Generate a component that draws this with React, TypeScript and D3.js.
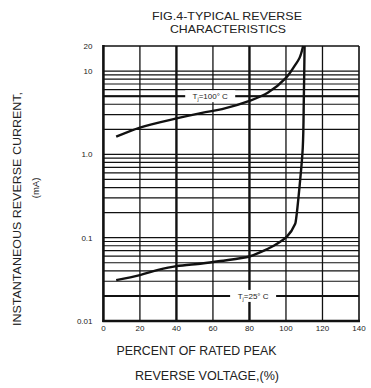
import React from "react";
import * as d3 from "d3";

const xTicks = [0, 20, 40, 60, 80, 100, 120, 140];
const xGrid = [20, 40, 60, 80, 100, 120];
const xGridThick = [40, 80];
const yTickValues = [0.01, 0.1, 1, 10, 20];
const yTickLabels = ["0.01", "0.1", "1.0", "10", "20"];
const decades = [0.01, 0.1, 1];

const pct100 = [7, 20, 40, 54, 65, 80, 90, 100, 105, 107.5, 109.4];
const cur100 = [1.63, 2.1, 2.7, 3.15, 3.5, 4.4, 5.5, 8.3, 11.8, 14.5, 20];

const pct25 = [7, 20, 30, 40, 54, 64, 80, 86, 93, 100.5, 105, 105.4, 107.6, 109.2, 109.8, 110.2];
const cur25 = [0.031, 0.0356, 0.041, 0.0455, 0.049, 0.0525, 0.0595, 0.067, 0.0795, 0.103, 0.146, 0.16, 0.45, 1.2, 5, 20];

const W = 371;
const H = 388;
const L = 103.4, R = 359, T = 46, B = 321;

export default function App() {
  const x = d3.scaleLinear().domain([0, 140]).range([L, R]);
  const y = d3.scaleLog().domain([0.01, 20]).range([B, T]);

  const hLines: number[] = [];
  decades.forEach((d) => {
    for (let k = 1; k <= 9; k++) {
      const v = d * k;
      if (v > 0.01 + 1e-9) hLines.push(v);
    }
  });
  hLines.push(10);

  const line = d3
    .line<[number, number]>()
    .x((d) => x(d[0]))
    .y((d) => y(d[1]))
    .curve(d3.curveCatmullRom.alpha(0.5));

  const d100 = line(pct100.map((p, i) => [p, cur100[i]] as [number, number])) || "";
  const d25 = line(pct25.map((p, i) => [p, cur25[i]] as [number, number])) || "";

  const font = "'Liberation Sans', Arial, Helvetica, sans-serif";
  const ink = "#111";
  const txt = "#222";

  const label = (cx: number, v: number, temp: string, bw: number) => {
    const cy = y(v);
    return (
      <g>
        <line x1={L} x2={R} y1={cy} y2={cy} stroke={ink} strokeWidth={2} />
        <rect x={cx - bw / 2} y={cy - 6} width={bw} height={12} fill="#fff" />
        <text x={cx} y={cy + 3} textAnchor="middle" fontFamily={font} fontSize={8} fill={txt}>
          T<tspan dy={2} fontSize={5.5}>j</tspan>
          <tspan dy={-2}>{"=" + temp + "° C"}</tspan>
        </text>
      </g>
    );
  };

  return (
    <svg width={W} height={H} style={{ position: "absolute", left: 0, top: 0, background: "#fff" }}>
      <rect x={0} y={0} width={W} height={H} fill="#fff" />
      {/* title */}
      <text x={227} y={20} textAnchor="middle" fontFamily={font} fontSize={11.5} fill={txt} textLength={150} lengthAdjust="spacingAndGlyphs">
        FIG.4-TYPICAL REVERSE
      </text>
      <text x={228} y={33} textAnchor="middle" fontFamily={font} fontSize={11.5} fill={txt} textLength={116} lengthAdjust="spacingAndGlyphs">
        CHARACTERISTICS
      </text>

      {/* horizontal grid */}
      {hLines.map((v, i) => (
        <line key={"h" + i} x1={L} x2={R} y1={y(v)} y2={y(v)} stroke={ink} strokeWidth={1.2} />
      ))}
      {/* vertical grid */}
      {xGrid.map((v) => (
        <line
          key={"v" + v}
          x1={x(v)}
          x2={x(v)}
          y1={T}
          y2={B}
          stroke={ink}
          strokeWidth={xGridThick.includes(v) ? 2.4 : 1.3}
        />
      ))}

      {/* labels with leaders */}
      {label(x(58.5), 5, "100", 50)}
      {label(x(82), 0.02, "25", 46)}

      {/* border */}
      <line x1={L} x2={R} y1={T} y2={T} stroke={ink} strokeWidth={1.6} />
      <line x1={R} x2={R} y1={T} y2={B} stroke={ink} strokeWidth={1.6} />
      <line x1={L} x2={L} y1={T - 1} y2={B + 1} stroke={ink} strokeWidth={2.6} />
      <line x1={L - 1} x2={R + 1} y1={B} y2={B} stroke={ink} strokeWidth={2.4} />

      {/* curves */}
      <path d={d100} fill="none" stroke={ink} strokeWidth={2.4} />
      <path d={d25} fill="none" stroke={ink} strokeWidth={2.4} />

      {/* y tick labels */}
      {yTickValues.map((v, i) => (
        <text key={"yl" + i} x={92.5} y={y(v) + 3} textAnchor="end" fontFamily={font} fontSize={8} fill={txt}>
          {yTickLabels[i]}
        </text>
      ))}
      {/* x tick labels */}
      {xTicks.map((v) => (
        <text key={"xl" + v} x={x(v)} y={331} textAnchor="middle" fontFamily={font} fontSize={8} fill={txt}>
          {v}
        </text>
      ))}

      {/* y axis title */}
      <text
        transform={`translate(20.5,209) rotate(-90)`}
        textAnchor="middle"
        fontFamily={font}
        fontSize={10}
        fill={txt}
        textLength={234}
        lengthAdjust="spacingAndGlyphs"
      >
        INSTANTANEOUS REVERSE CURRENT,
      </text>
      <text transform={`translate(38.5,188) rotate(-90)`} textAnchor="middle" fontFamily={font} fontSize={9.5} fill={txt}>
        (mA)
      </text>

      {/* x axis title */}
      <text x={196.5} y={354.5} textAnchor="middle" fontFamily={font} fontSize={12} fill={txt} textLength={160} lengthAdjust="spacingAndGlyphs">
        PERCENT OF RATED PEAK
      </text>
      <text x={207} y={379.5} textAnchor="middle" fontFamily={font} fontSize={12} fill={txt} textLength={144} lengthAdjust="spacingAndGlyphs">
        REVERSE VOLTAGE,(%)
      </text>
    </svg>
  );
}
